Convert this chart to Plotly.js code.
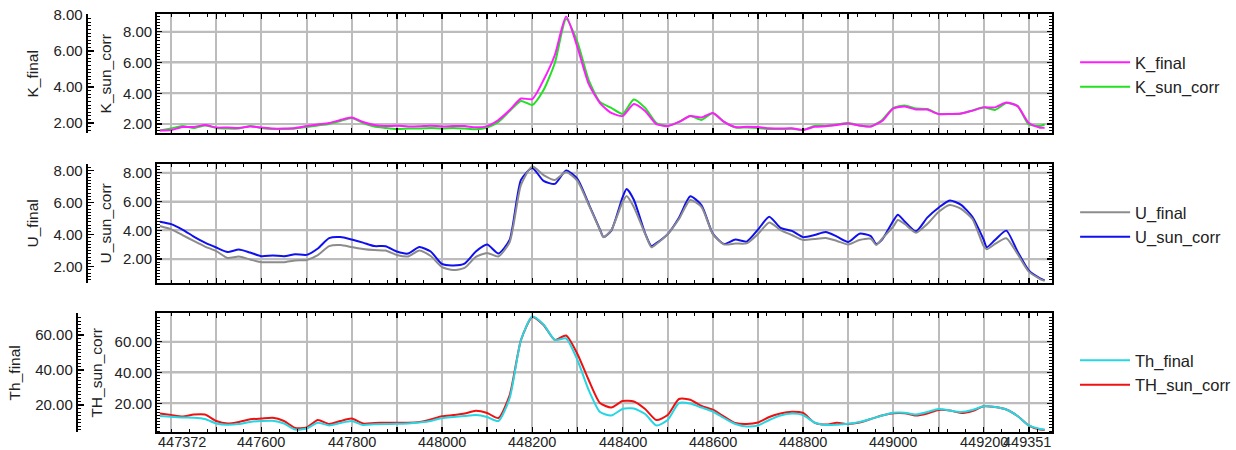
<!DOCTYPE html>
<html><head><meta charset="utf-8">
<script src="https://cdn.plot.ly/plotly-3.0.1.min.js"></script>
<style>html,body{margin:0;padding:0;background:#fff}#chart{width:1236px;height:450px}</style>
</head><body><div id="chart"></div>
<script>
// ---------- data ----------
const xK = [447375,447400,447425,447450,447475,447500,447525,447550,447575,447600,
447625,447650,447675,447700,447725,447750,447775,447800,447825,447850,
447875,447900,447925,447950,447975,448000,448025,448050,448075,448100,
448125,448150,448175,448200,448225,448250,448275,448300,448325,448350,
448375,448400,448425,448450,448475,448500,448525,448550,448575,448600,
448625,448650,448675,448700,448725,448750,448775,448800,448825,448850,
448875,448900,448925,448950,448975,449000,449025,449050,449075,449100,
449125,449150,449175,449200,449225,449250,449275,449300,449325,449335];
const kFinal = [1.58,1.61,1.78,1.78,1.89,1.75,1.75,1.72,1.81,1.75,
1.69,1.69,1.72,1.83,1.92,2.00,2.17,2.31,2.06,1.89,
1.83,1.85,1.81,1.82,1.85,1.81,1.83,1.83,1.76,1.83,
2.17,2.72,3.36,3.33,4.39,5.78,7.92,6.22,4.17,3.11,
2.56,2.39,3.06,2.67,1.94,1.83,2.06,2.39,2.31,2.56,
2.06,1.78,1.79,1.78,1.71,1.69,1.71,1.61,1.79,1.82,
1.89,1.97,1.86,1.81,2.11,2.81,2.92,2.75,2.75,2.50,
2.50,2.53,2.69,2.87,2.87,3.14,2.94,2.00,1.74,1.74];
const kSunCorr = [1.58,1.71,1.88,1.75,1.91,1.75,1.71,1.71,1.88,1.75,
1.68,1.68,1.71,1.81,1.91,2.01,2.20,2.40,2.07,1.84,
1.75,1.68,1.71,1.71,1.75,1.71,1.75,1.71,1.66,1.78,
2.14,2.85,3.50,3.24,4.21,5.97,8.82,7.33,4.86,3.44,
3.05,2.66,3.60,3.05,2.07,1.88,2.14,2.53,2.27,2.72,
2.14,1.78,1.78,1.75,1.68,1.68,1.69,1.62,1.88,1.88,
1.97,2.07,1.91,1.84,2.27,3.05,3.21,3.01,2.98,2.66,
2.66,2.69,2.88,3.09,2.92,3.37,3.18,1.97,1.88,1.97];

const xU = [447375,447400,447425,447450,447475,447500,447525,447550,447575,447600,
447625,447650,447675,447700,447725,447750,447775,447800,447825,447850,
447875,447900,447925,447950,447975,448000,448025,448050,448075,448100,
448125,448150,448175,448200,448225,448250,448275,448300,448325,448350,
448358,448375,448400,448409,448425,448450,448464,
448475,448500,448525,448550,448575,448600,
448625,448650,448675,448700,448725,448750,448775,448800,448825,448850,
448875,448900,448925,448950,448962,448975,449000,449010,
449025,449050,449075,449100,449125,449150,449175,449200,449207,
449225,449250,449275,449300,449325,449335];
const uFinal = [4.54,4.33,3.98,3.61,3.26,2.98,2.54,2.63,2.45,2.28,
2.28,2.28,2.39,2.42,2.73,3.29,3.36,3.23,3.11,3.04,
3.01,2.73,2.64,3.01,2.67,1.98,1.79,1.92,2.61,2.86,
2.64,3.54,7.11,8.26,7.73,7.42,7.92,7.36,5.86,4.29,
3.84,4.29,6.04,6.42,5.73,4.05,3.21,
3.42,4.04,4.98,6.17,5.73,4.04,
3.39,3.45,3.46,4.04,4.76,4.29,3.98,3.67,3.73,3.79,
3.61,3.39,3.67,3.75,3.36,3.75,4.52,4.92,
4.67,4.13,4.67,5.42,5.86,5.61,4.98,3.29,3.09,
3.42,3.78,2.79,1.69,1.23,1.11];
const uSunCorr = [4.60,4.43,4.05,3.57,3.15,2.81,2.50,2.67,2.46,2.21,
2.26,2.21,2.34,2.30,2.74,3.46,3.53,3.36,3.15,2.91,
2.90,2.53,2.39,2.84,2.53,1.67,1.57,1.70,2.53,3.01,
2.39,3.36,7.50,8.32,7.43,7.22,8.15,7.57,5.84,4.05,
3.54,3.98,6.29,6.86,6.12,3.79,2.90,
3.11,3.74,4.88,6.36,5.74,3.77,
3.05,3.36,3.22,4.05,4.94,4.17,3.96,3.53,3.67,3.88,
3.57,3.20,3.77,3.60,3.06,3.36,4.67,5.08,
4.62,3.93,4.88,5.57,6.07,5.77,4.94,3.35,2.83,
3.33,3.98,2.53,1.22,0.67,0.53];

const xTh = xK.slice();
const thFinal = [13.71,13.31,12.86,12.74,12.00,9.43,8.69,9.14,10.29,10.86,
11.03,9.43,6.00,6.57,9.89,8.29,9.71,10.86,8.57,8.97,
9.14,9.26,9.43,10.00,10.86,12.57,13.14,13.71,14.29,13.14,
10.86,24.00,57.14,70.57,66.00,57.14,58.00,45.71,28.57,16.00,
14.00,17.71,18.00,14.86,8.29,11.43,21.14,20.86,18.57,16.29,
12.57,9.14,7.71,8.29,11.43,14.00,15.14,14.29,10.00,8.57,
8.74,9.26,10.29,12.00,14.00,15.60,15.60,14.57,16.00,17.71,
16.86,16.00,17.14,19.31,18.86,17.43,13.71,8.29,6.29,6.00];
const thSunCorr = [13.38,12.40,11.43,12.73,12.73,8.51,6.88,7.86,9.61,10.13,
10.65,8.51,3.96,4.29,9.16,6.56,8.51,10.13,6.88,7.21,
7.40,7.40,7.40,7.86,9.48,11.56,12.40,13.38,15.19,13.70,
10.45,25.39,61.10,76.04,70.84,61.10,64.03,52.01,35.13,20.19,
17.27,21.49,21.17,16.30,9.16,12.40,22.79,22.34,18.25,15.84,
11.43,7.21,6.56,7.53,11.10,13.38,14.55,13.70,7.53,6.23,
7.40,6.56,7.53,9.81,12.08,13.51,13.51,12.08,13.38,15.65,
15.32,13.70,15.00,18.05,17.60,15.97,11.75,5.58,2.99,2.66];

const xTickLabels = ['447600','447800','448000','448200','448400','448600','448800','449000','449200'];
const xEndLabels = ['447372','449351'];
const kuTickVals = [2, 4, 6, 8];
const thTickVals = [20, 40, 60];
const seriesNames = ['K_final','K_sun_corr','U_final','U_sun_corr','Th_final','TH_sun_corr'];

// ---------- styling ----------
const FONT = 'Liberation Sans, Arial, Helvetica, sans-serif';
const TXT = '#222222';
const GRID = '#bcbcbc';
const colors = {K_final:'#ff1cff', K_sun_corr:'#22e022', U_final:'#8c8c8c', U_sun_corr:'#1010ee', Th_final:'#26d6e2', TH_sun_corr:'#f01010'};

const XD = [158.3/1236, 1060/1236];
const dom = px => [1 - px[1]/450, 1 - px[0]/450];
const D1 = dom([14.3,133.3]), D2 = dom([164,282.7]), D3 = dom([313.3,432.3]);

// x ticks: gridlines every 100, labels every 200
const xTickVals = [], xTickText = [];
for (let v = 447400; v <= 449300; v += 100) {
  xTickVals.push(v);
  const s = String(v);
  xTickText.push(xTickLabels.indexOf(s) >= 0 ? s : '');
}

function xAxis(anchor, extra) {
  return Object.assign({
    domain: XD, anchor: anchor, range: [447369, 449352],
    tickmode: 'array', tickvals: xTickVals, ticktext: xTickText,
    showticklabels: false, ticks: 'inside', ticklen: 5, tickwidth: 1.5, tickcolor: '#000',
    showline: true, linecolor: '#000', linewidth: 2, mirror: 'ticks',
    showgrid: true, gridcolor: GRID, gridwidth: 2, zeroline: false,
    tickfont: {family: FONT, size: 15, color: TXT},
    minor: {tick0: 448000, dtick: 40, ticks: 'inside', ticklen: 3, tickwidth: 1, tickcolor: '#000', showgrid: false}
  }, extra || {});
}
function yInner(domain, anchor, range, vals, mdtick, title) {
  return {
    domain: domain, anchor: anchor, range: range, tickmode: 'array', tickvals: vals, tickformat: '.2f',
    ticks: 'inside', ticklen: 5, tickwidth: 1.5, tickcolor: '#000',
    showline: true, linecolor: '#000', linewidth: 2, mirror: 'ticks',
    showgrid: true, gridcolor: GRID, gridwidth: 2, zeroline: false,
    tickfont: {family: FONT, size: 15, color: TXT},
    minor: {tick0: 0, dtick: mdtick, ticks: 'inside', ticklen: 3, tickwidth: 1, tickcolor: '#000', showgrid: false},
    title: {text: title, font: {family: FONT, size: 15.5, color: TXT}, standoff: 8}
  };
}
function yOuter(overlay, pos, range, vals, mdtick, title) {
  return {
    overlaying: overlay, anchor: 'free', position: pos, side: 'left', range: range,
    tickmode: 'array', tickvals: vals, tickformat: '.2f',
    ticks: 'inside', ticklen: 6, tickwidth: 1.5, tickcolor: '#000',
    showline: true, linecolor: '#000', linewidth: 2,
    showgrid: false, zeroline: false,
    tickfont: {family: FONT, size: 15, color: TXT},
    minor: {tick0: 0, dtick: mdtick, ticks: 'inside', ticklen: 3, tickwidth: 1, tickcolor: '#000', showgrid: false},
    title: {text: title, font: {family: FONT, size: 15.5, color: TXT}, standoff: 10}
  };
}

function line(x, y, name, xa, ya, leg) {
  return {type: 'scatter', mode: 'lines', x: x, y: y, name: name, xaxis: xa, yaxis: ya, legend: leg,
    line: {color: colors[name], width: 2, shape: 'spline', smoothing: 0.6}, hoverinfo: 'skip'};
}

const traces = [
  line(xK, kSunCorr, seriesNames[1], 'x3', 'y5', 'legend'),
  line(xK, kFinal, seriesNames[0], 'x3', 'y6', 'legend'),
  line(xU, uSunCorr, seriesNames[3], 'x2', 'y3', 'legend2'),
  line(xU, uFinal, seriesNames[2], 'x2', 'y4', 'legend2'),
  line(xTh, thSunCorr, seriesNames[5], 'x', 'y', 'legend3'),
  line(xTh, thFinal, seriesNames[4], 'x', 'y2', 'legend3')
];

// horizontal grid lines at the inner-axis tick values (drawn beneath the curves)
const shapes = [];
[['x3','y5',kuTickVals],['x2','y3',kuTickVals],['x','y',thTickVals]].forEach(([xa, ya, vals]) => {
  vals.forEach(v => shapes.push({type: 'line', layer: 'below', xref: xa + ' domain', yref: ya,
    x0: 0, x1: 1, y0: v, y1: v, line: {color: GRID, width: 2}}));
});

const legBase = {x: 1083/1236, xanchor: 'left', yanchor: 'middle', traceorder: 'reversed',
  font: {family: FONT, size: 16.5, color: TXT}, bgcolor: 'rgba(0,0,0,0)', borderwidth: 0, itemwidth: 50};

const labelFont = {family: FONT, size: 14.5, color: TXT};
const LY = 1 - 442/450;
const layout = {
  width: 1236, height: 450, margin: {l: 0, r: 0, t: 0, b: 0},
  paper_bgcolor: '#fff', plot_bgcolor: '#fff', showlegend: true,
  font: {family: FONT, color: TXT},
  xaxis: xAxis('y'),
  xaxis2: xAxis('y3', {matches: 'x'}),
  xaxis3: xAxis('y5', {matches: 'x'}),
  yaxis: yInner(D3, 'x', [1.2, 78.4], thTickVals, 2, 'TH_sun_corr'),
  yaxis2: yOuter('y', 77.3/1236, [4.4, 72.4], thTickVals, 2, 'Th_final'),
  yaxis3: yInner(D2, 'x2', [0.37, 8.6], kuTickVals, 0.2, 'U_sun_corr'),
  yaxis4: yOuter('y3', 87.3/1236, [1.0, 8.42], kuTickVals, 0.2, 'U_final'),
  yaxis5: yInner(D1, 'x3', [1.40, 9.13], kuTickVals, 0.2, 'K_sun_corr'),
  yaxis6: yOuter('y5', 87.3/1236, [1.43, 8.04], kuTickVals, 0.2, 'K_final'),
  legend: Object.assign({}, legBase, {y: 1 - 74.5/450}),
  legend2: Object.assign({}, legBase, {y: 1 - 224.5/450}),
  legend3: Object.assign({}, legBase, {y: 1 - 372.5/450}),
  shapes: shapes,
  annotations: xTickLabels.map(s => ({
    text: s, xref: 'x', yref: 'paper', x: Number(s), y: LY, yanchor: 'middle', xanchor: 'center',
    showarrow: false, borderpad: 0, font: labelFont
  })).concat([
    {text: xEndLabels[0], xref: 'x domain', yref: 'paper', x: 0, y: LY, xanchor: 'left', yanchor: 'middle',
     showarrow: false, borderpad: 0, font: labelFont},
    {text: xEndLabels[1], xref: 'x domain', yref: 'paper', x: 1, y: LY, xanchor: 'right', yanchor: 'middle',
     showarrow: false, borderpad: 0, font: labelFont}
  ])
};

Plotly.newPlot('chart', traces, layout, {displayModeBar: false, staticPlot: true});
</script>
</body></html>
